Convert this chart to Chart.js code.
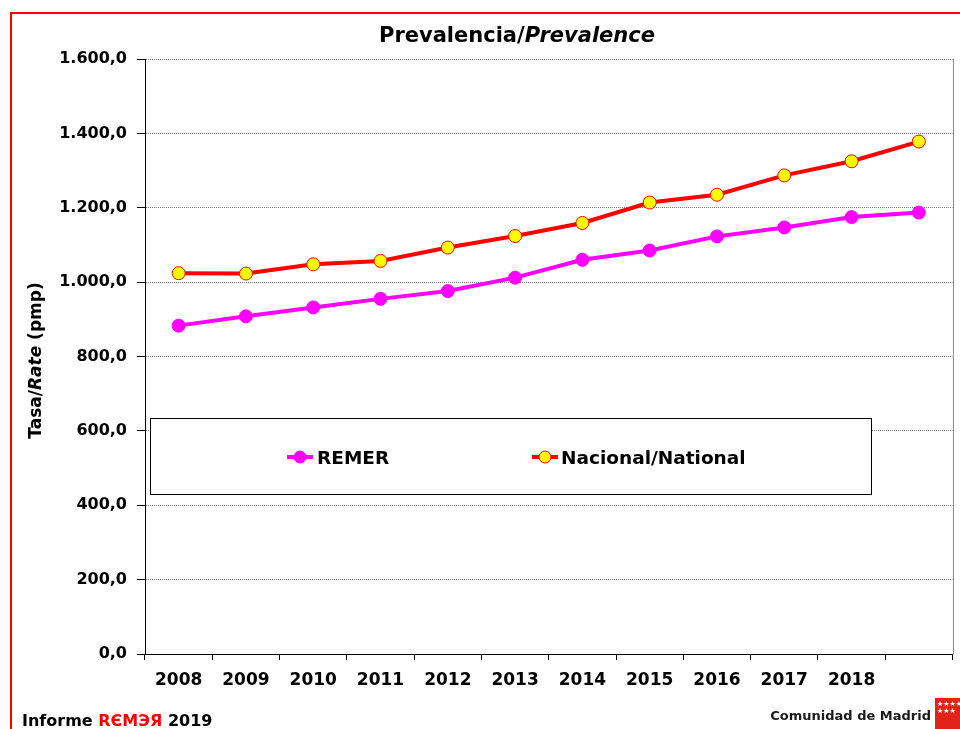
<!DOCTYPE html>
<html><head><meta charset="utf-8">
<script src="https://cdn.jsdelivr.net/npm/chart.js@4.4.1/dist/chart.umd.min.js"></script>
<style>
html,body{margin:0;padding:0;background:#fff;}
#wrap{position:relative;width:960px;height:729px;overflow:hidden;background:#fff;}
#c{position:absolute;left:0;top:0;}
.t{position:absolute;font-family:'DejaVu Sans',sans-serif;font-weight:bold;white-space:nowrap;color:#000;}
#frame{position:absolute;left:10px;top:12px;width:960px;height:740px;border-top:2px solid #ff0000;border-left:2px solid #ff0000;pointer-events:none;}
#logo{position:absolute;left:935px;top:698px;width:30px;height:31px;background:#e2231a;color:#fff;font-size:7px;line-height:7px;padding:3px 0 0 2px;box-sizing:border-box;font-family:'DejaVu Sans';}
</style></head>
<body>
<div id="wrap">
<canvas id="c" width="960" height="729"></canvas>
<div id="frame"></div>
<div class="t" id="title" style="left:0;width:1034px;text-align:center;top:25px;font-size:21px;line-height:21px;">Prevalencia/<i>Prevalence</i></div>
<div class="t" id="ytitle" style="left:-115.5px;top:352px;width:300px;text-align:center;font-size:17px;line-height:17px;transform:rotate(-90deg);transform-origin:50% 50%;">Tasa/<i>Rate</i> (pmp)</div>
<div class="t" style="left:22px;top:712.5px;font-size:16px;line-height:16px;">Informe <span style="color:#ff0000">RЄMЭЯ</span> 2019</div>
<div class="t" style="right:29px;top:708.5px;font-size:13px;line-height:14px;color:#1a1a1a;">Comunidad de Madrid</div>
<div id="logo">★★★★<br>★★★</div>
</div>
<script>
const categories = ['2008','2009','2010','2011','2012','2013','2014','2015','2016','2017','2018',''];
const remerValues = [883, 908, 932, 955, 976, 1012, 1060, 1085, 1123, 1147, 1175, 1187];
const nacionalValues = [1024, 1023, 1048, 1057, 1093, 1124, 1159, 1214, 1235, 1287, 1325, 1378];
const seriesNames = ['REMER', 'Nacional/National'];
const yTicks = [0, 200, 400, 600, 800, 1000, 1200, 1400, 1600];

function fmt(v){
  const s = Number(v).toFixed(1).split('.');
  return s[0].replace(/\B(?=(\d{3})+(?!\d))/g, '.') + ',' + s[1];
}

const frameRight = {
  id: 'frameRight',
  beforeDatasetsDraw(chart){
    const a = chart.chartArea, ctx = chart.ctx;
    ctx.save();
    ctx.strokeStyle = '#8c8c8c';
    ctx.lineWidth = 1;
    ctx.beginPath();
    ctx.moveTo(Math.round(a.right) + 0.5, a.top);
    ctx.lineTo(Math.round(a.right) + 0.5, a.bottom);
    ctx.stroke();
    ctx.restore();
  }
};

const legendBox = {
  id: 'legendBox',
  afterDatasetsDraw(chart){
    const ctx = chart.ctx;
    const L = 150.5, T = 418.5, R = 871.5, B = 494.5;
    ctx.save();
    ctx.fillStyle = '#fff';
    ctx.fillRect(L, T, R - L, B - T);
    ctx.strokeStyle = '#000';
    ctx.lineWidth = 1;
    ctx.strokeRect(L, T, R - L, B - T);
    const items = [{x: 300, tx: 317}, {x: 545, tx: 561}];
    const cy = 457;
    chart.data.datasets.forEach((ds, i) => {
      const it = items[i];
      ctx.strokeStyle = ds.borderColor;
      ctx.lineWidth = 4;
      ctx.beginPath();
      ctx.moveTo(it.x - 13, cy);
      ctx.lineTo(it.x + 13, cy);
      ctx.stroke();
      ctx.beginPath();
      ctx.arc(it.x, cy, 6, 0, Math.PI * 2);
      ctx.fillStyle = ds.pointBackgroundColor;
      ctx.fill();
      ctx.lineWidth = 1;
      ctx.strokeStyle = ds.pointBorderColor;
      ctx.stroke();
      ctx.fillStyle = '#000';
      ctx.font = 'bold 18.5px "DejaVu Sans"';
      ctx.textBaseline = 'alphabetic';
      ctx.textAlign = 'left';
      ctx.fillText(ds.label, it.tx, 464);
    });
    ctx.restore();
  }
};

new Chart(document.getElementById('c'), {
  type: 'line',
  data: {
    labels: categories,
    datasets: [
      {
        label: seriesNames[0],
        data: remerValues,
        borderColor: '#ff00ff',
        backgroundColor: '#ff00ff',
        borderWidth: 4,
        pointRadius: 6.5,
        pointBackgroundColor: '#ff00ff',
        pointBorderColor: '#ff00ff',
        pointBorderWidth: 1,
        tension: 0
      },
      {
        label: seriesNames[1],
        data: nacionalValues,
        borderColor: '#ff0000',
        backgroundColor: '#ffff00',
        borderWidth: 4,
        pointRadius: 6.5,
        pointBackgroundColor: '#ffff00',
        pointBorderColor: '#ff0000',
        pointBorderWidth: 1,
        tension: 0
      }
    ]
  },
  options: {
    responsive: false,
    animation: false,
    devicePixelRatio: 1,
    layout: { padding: { top: 59, right: 7, left: 0, bottom: 0 } },
    plugins: { legend: { display: false }, title: { display: false }, tooltip: { enabled: false } },
    scales: {
      x: {
        offset: true,
        grid: { offset: true, drawOnChartArea: false, color: '#000', tickLength: 6 },
        border: { color: '#000', width: 1 },
        ticks: { color: '#000', font: { family: 'DejaVu Sans', weight: 'bold', size: 17 }, padding: 10, maxRotation: 0, autoSkip: false },
        afterFit(s){ s.height = 75; }
      },
      y: {
        min: 0, max: 1600,
        afterBuildTicks(s){ s.ticks = yTicks.map(v => ({value: v})); },
        grid: { color: '#7a7a7a', tickColor: '#000', tickLength: 8, tickBorderDash: [] },
        border: { color: '#000', width: 1, dash: [1, 1] },
        ticks: { color: '#000', font: { family: 'DejaVu Sans', weight: 'bold', size: 16 }, padding: 10, callback: (v) => fmt(v) },
        afterFit(s){ s.width = 145; }
      }
    }
  },
  plugins: [frameRight, legendBox]
});
</script>
</body></html>
